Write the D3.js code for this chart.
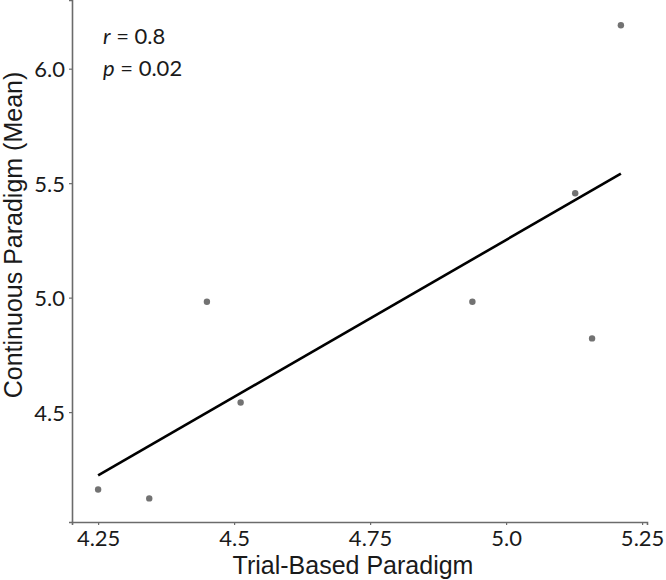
<!DOCTYPE html>
<html>
<script src="https://d3js.org/d3.v7.min.js"></script>

<head>
    <style>
        body {
            margin: 0;
            background-color: white;
        }

        svg {
            display: block;
        }
    </style>
</head>

<body>
    <svg width="666" height="580"></svg>
</body>
<script>
    const width = 666,
        height = 580;
    const svg = d3.select("svg");

    // points
    const trialBased = [4.25, 4.344, 4.45, 4.512, 4.938, 5.127, 5.158, 5.211];
    const continuous = [4.162, 4.123, 4.982, 4.542, 4.982, 5.456, 4.822, 6.19];
    const xTicks = [4.25, 4.5, 4.75, 5.0, 5.25];
    const xTickLabels = ["4.25", "4.5", "4.75", "5.0", "5.25"];
    const yTicks = [4.5, 5.0, 5.5, 6.0];
    const yTickLabels = ["4.5", "5.0", "5.5", "6.0"];
    const stats = ["r", "0.8", "p", "0.02"];

    const tickFont = "Lato, 'Open Sans', sans-serif";
    const titleFont = "'Liberation Sans', Arial, sans-serif";

    function draw() {
        const xScale = d3.scaleLinear().domain([4.202, 5.259]).range([72, 647]);
        const yScale = d3.scaleLinear().domain([4.02, 6.3]).range([522, 0]);

        // x axis
        const xAxis = svg.append("g")
            .attr("transform", "translate(0,522)")
            .call(d3.axisBottom(xScale)
                .tickValues(xTicks)
                .tickFormat((d, i) => xTickLabels[i])
                .tickSize(3)
                .tickPadding(6));
        // y axis
        const yAxis = svg.append("g")
            .attr("transform", "translate(72,0)")
            .call(d3.axisLeft(yScale)
                .tickValues(yTicks)
                .tickFormat((d, i) => yTickLabels[i])
                .tickSize(3)
                .tickPadding(4));
        [xAxis, yAxis].forEach(g => {
            g.select(".domain").attr("stroke", "#6b6b6b").attr("stroke-width", 1.6);
            g.selectAll(".tick line").attr("stroke", "#6b6b6b").attr("stroke-width", 1.2);
            g.selectAll(".tick text")
                .attr("fill", "#1a1a1a")
                .style("font-family", tickFont)
                .style("font-size", "22px");
        });
        xAxis.selectAll(".tick text").attr("dy", "0.7em");
        yAxis.selectAll(".tick text").attr("dy", "0.36em");

        // regression line (least squares)
        const mx = d3.mean(trialBased), my = d3.mean(continuous);
        let sxy = 0, sxx = 0;
        trialBased.forEach((x, i) => {
            sxy += (x - mx) * (continuous[i] - my);
            sxx += (x - mx) * (x - mx);
        });
        const slope = sxy / sxx;
        const x0 = d3.min(trialBased), x1 = d3.max(trialBased);
        svg.append("line")
            .attr("stroke", "black")
            .attr("stroke-width", 2.6)
            .attr("x1", xScale(x0))
            .attr("y1", yScale(my + slope * (x0 - mx)))
            .attr("x2", xScale(x1))
            .attr("y2", yScale(my + slope * (x1 - mx)));

        // points
        svg.selectAll("circle.pt")
            .data(trialBased)
            .enter()
            .append("circle")
            .attr("class", "pt")
            .attr("cx", d => xScale(d))
            .attr("cy", (d, i) => yScale(continuous[i]))
            .attr("r", 3.2)
            .attr("fill", "#727272");

        // stats annotation
        [0, 1].forEach(k => {
            const t = svg.append("text")
                .attr("x", 103)
                .attr("y", 44 + k * 32)
                .style("font-family", tickFont)
                .style("font-size", "22px")
                .attr("fill", "#1a1a1a");
            t.append("tspan").style("font-style", "italic").text(stats[k * 2]);
            t.append("tspan").text(" = " + stats[k * 2 + 1]);
        });

        // axis titles
        svg.append("text")
            .attr("x", 353)
            .attr("y", 574)
            .attr("text-anchor", "middle")
            .style("font-family", titleFont)
            .style("font-size", "25px")
            .attr("fill", "#1a1a1a")
            .text("Trial-Based Paradigm");
        svg.append("text")
            .attr("transform", "translate(22,235) rotate(-90)")
            .attr("text-anchor", "middle")
            .style("font-family", titleFont)
            .style("font-size", "25px")
            .attr("fill", "#1a1a1a")
            .text("Continuous Paradigm (Mean)");
    }

    draw();
</script>

</html>
